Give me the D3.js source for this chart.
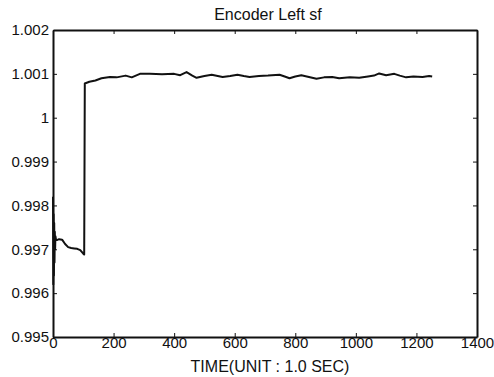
<!DOCTYPE html>
<html>
<head>
<meta charset="utf-8">
<script src="https://cdn.jsdelivr.net/npm/d3@7"></script>
<style>
body { margin: 0; background: #fff; }
svg text { font-family: "Liberation Sans", Arial, sans-serif; fill: #111; }
.axis path, .axis line { stroke: #111; }
.axis path { stroke-width: 2; }
.trace { fill: none; stroke: #111; stroke-width: 2; stroke-linejoin: round; }
</style>
</head>
<body>
<div class="container"></div>
<script>
// data
var times = [0, 1, 2, 3, 4, 5, 6, 7, 8, 10, 13, 20, 30, 40, 50, 60, 70, 80, 90, 100, 103,
  105, 120, 140, 160, 188, 210, 240, 260, 287, 320, 360, 400, 420, 441, 460, 474,
  500, 524, 560, 585, 609, 630, 649, 680, 710, 748, 765, 781, 800, 820, 845, 870, 895, 922,
  945, 980, 1011, 1040, 1060, 1077, 1100, 1127, 1145, 1166, 1190, 1220, 1242, 1252];
var values = [0.9982, 0.9962, 0.9978, 0.9964, 0.9976, 0.9967, 0.9974, 0.9970, 0.9973, 0.99722, 0.99721, 0.99723, 0.99722, 0.99712, 0.99705, 0.99703, 0.99702, 0.99701, 0.99698, 0.9969, 0.99688,
  1.00078, 1.00082, 1.00085, 1.00090, 1.00093, 1.00092, 1.00096, 1.00092, 1.00100, 1.00100, 1.00099, 1.00100, 1.00097, 1.00104, 1.00096, 1.00091,
  1.00095, 1.00098, 1.00093, 1.00095, 1.00098, 1.00095, 1.00093, 1.00095, 1.00096, 1.00098, 1.00094, 1.00090, 1.00094, 1.00097, 1.00093, 1.00089, 1.00092, 1.00093,
  1.00090, 1.00092, 1.00091, 1.00094, 1.00096, 1.00101, 1.00097, 1.00100, 1.00096, 1.00092, 1.00094, 1.00093, 1.00095, 1.00094];

var xTicks = [0, 200, 400, 600, 800, 1000, 1200, 1400];
var yTicks = [0.995, 0.996, 0.997, 0.998, 0.999, 1, 1.001, 1.002];

var title = 'Encoder Left sf';
var xLabel = 'TIME(UNIT : 1.0 SEC)';

const WIDTH = 494;
const HEIGHT = 377;
const LEFT = 53, RIGHT = 477, TOP = 30, BOTTOM = 337;

var svg = d3.select('.container').append('svg')
  .attr('width', WIDTH)
  .attr('height', HEIGHT);

var xScale = d3.scaleLinear().domain([0, 1400]).range([LEFT, RIGHT]);
var yScale = d3.scaleLinear().domain([0.995, 1.002]).range([BOTTOM, TOP]);

var fmt = function(d){ return String(+d.toFixed(3)); };

svg.append('g').attr('class', 'axis')
  .attr('transform', 'translate(0,' + BOTTOM + ')')
  .call(d3.axisBottom(xScale).tickValues(xTicks).tickSizeInner(-4).tickSizeOuter(0).tickPadding(0).tickFormat(d3.format('d')))
  .selectAll('text').style('font-size', '15px');

svg.append('g').attr('class', 'axis')
  .attr('transform', 'translate(0,' + TOP + ')')
  .call(d3.axisTop(xScale).tickValues(xTicks).tickSizeInner(-4).tickSizeOuter(0).tickFormat(''));

svg.append('g').attr('class', 'axis')
  .attr('transform', 'translate(' + LEFT + ',0)')
  .call(d3.axisLeft(yScale).tickValues(yTicks).tickSizeInner(-4).tickSizeOuter(0).tickPadding(4).tickFormat(fmt))
  .selectAll('text').style('font-size', '15px');

svg.append('g').attr('class', 'axis')
  .attr('transform', 'translate(' + RIGHT + ',0)')
  .call(d3.axisRight(yScale).tickValues(yTicks).tickSizeInner(-4).tickSizeOuter(0).tickFormat(''));

svg.selectAll('.axis .domain').attr('stroke-width', 2);

var line = d3.line()
  .x(function(d, i){ return xScale(times[i]); })
  .y(function(d){ return yScale(d); });

svg.append('path')
  .attr('class', 'trace')
  .attr('d', line(values));

svg.append('text')
  .attr('x', 268)
  .attr('y', 20)
  .attr('text-anchor', 'middle')
  .style('font-size', '16px')
  .text(title);

svg.append('text')
  .attr('x', 270)
  .attr('y', 372)
  .attr('text-anchor', 'middle')
  .style('font-size', '16px')
  .text(xLabel);
</script>
</body>
</html>
